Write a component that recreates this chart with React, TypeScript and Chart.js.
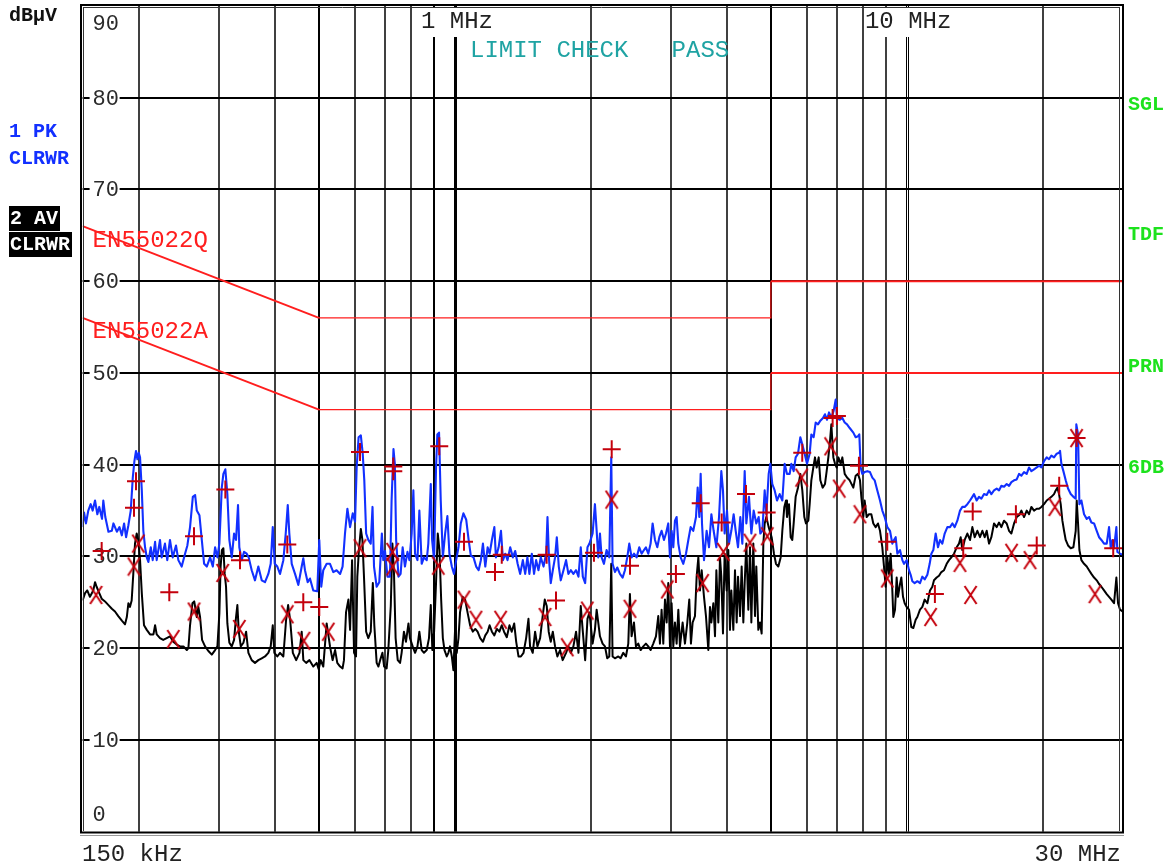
import React, { useEffect, useRef } from "react";
import { Chart, registerables } from "chart.js";

Chart.register(...registerables);

// ---- axis ranges (frequency in MHz, level in dBµV) ----
const FREQ_MIN = 0.15;
const FREQ_MAX = 30;
const LEVEL_MIN = 0;
const LEVEL_MAX = 90;
const LEVEL_GRID = [10, 20, 30, 40, 50, 60, 70, 80];
const LEVEL_LABELS = ["10", "20", "30", "40", "50", "60", "70", "80"];
const FREQ_GRID = [0.2, 0.3, 0.4, 0.5, 0.6, 0.7, 0.8, 0.9, 1, 2, 3, 4, 5, 6, 7, 8, 9, 10, 20];

// ---- limit lines ----
const EN55022Q_FREQ = [0.15, 0.5, 5, 5, 30];
const EN55022Q_LEVEL = [66, 56, 56, 60, 60];
const EN55022A_FREQ = [0.15, 0.5, 5, 5, 30];
const EN55022A_LEVEL = [56, 46, 46, 50, 50];

// ---- trace 1: PK (blue) [MHz, dBµV] ----
const peakTrace: [number, number][] = [
  [0.150, 33.2], [0.1511, 34.8], [0.1526, 33.6], [0.1544, 35.0], [0.1563, 35.7], [0.1579, 35.0], [0.1598, 36.1],
  [0.1617, 34.6], [0.1633, 35.4], [0.1656, 34.1], [0.1667, 36.1], [0.1684, 34.3], [0.1711, 32.7], [0.1741, 32.8],
  [0.1755, 33.6], [0.1786, 32.7], [0.1810, 33.2], [0.1832, 32.3], [0.1853, 33.6], [0.1872, 32.1], [0.1894, 33.4],
  [0.1917, 35.0], [0.1937, 38.6], [0.1953, 40.4], [0.1969, 41.5], [0.1983, 40.6], [0.1997, 41.3], [0.2010, 40.8],
  [0.2028, 37.2], [0.2044, 32.8], [0.2062, 31.0], [0.2080, 29.9], [0.2097, 29.4], [0.2123, 31.0], [0.2144, 29.6],
  [0.2170, 31.6], [0.2188, 29.6], [0.2225, 31.8], [0.2244, 29.9], [0.2282, 31.4], [0.2309, 29.6], [0.2341, 31.8],
  [0.2374, 29.9], [0.2414, 31.2], [0.2443, 29.6], [0.2485, 28.9], [0.2528, 30.3], [0.2558, 31.2], [0.2593, 33.2],
  [0.2630, 36.5], [0.2661, 36.7], [0.2684, 35.0], [0.2720, 34.5], [0.2753, 31.8], [0.2786, 29.2], [0.2824, 28.9],
  [0.2872, 29.9], [0.2912, 28.9], [0.2946, 31.0], [0.2981, 29.9], [0.3011, 31.4], [0.3048, 37.5], [0.3073, 39.0],
  [0.3104, 39.5], [0.3136, 36.8], [0.3168, 31.8], [0.3207, 29.9], [0.3245, 32.5], [0.3278, 31.8], [0.3311, 35.6],
  [0.3333, 31.0], [0.3374, 29.6], [0.3414, 30.5], [0.3461, 30.3], [0.3496, 29.9], [0.3550, 28.5], [0.3610, 27.4],
  [0.3672, 28.9], [0.3736, 27.4], [0.3799, 27.2], [0.3864, 28.1], [0.3911, 29.2], [0.3952, 33.2], [0.3992, 29.2],
  [0.4045, 28.9], [0.4101, 28.1], [0.4171, 29.6], [0.4222, 32.5], [0.4266, 35.6], [0.4300, 32.5], [0.4353, 29.2],
  [0.4427, 28.1], [0.4502, 26.9], [0.4580, 28.9], [0.4618, 29.8], [0.4657, 28.5], [0.4722, 27.2], [0.4777, 27.6],
  [0.4858, 26.3], [0.4958, 26.2], [0.5009, 31.8], [0.5060, 26.7], [0.5112, 28.5], [0.5201, 29.2],
  [0.529, 29.2], [0.538, 28.3], [0.547, 28.5], [0.557, 28.1], [0.564, 28.9], [0.571, 32.5], [0.578, 35.2],
  [0.586, 33.2], [0.594, 34.7], [0.601, 33.8], [0.606, 39.7], [0.612, 43.0], [0.619, 43.2], [0.625, 41.2],
  [0.630, 38.3], [0.636, 32.5], [0.643, 31.8], [0.651, 31.4], [0.657, 35.4], [0.662, 28.9], [0.671, 26.7],
  [0.680, 27.2], [0.689, 32.5], [0.694, 29.6], [0.700, 30.6], [0.709, 27.8], [0.718, 27.8], [0.724, 36.1],
  [0.731, 41.7], [0.736, 40.1], [0.741, 31.8], [0.750, 27.8], [0.758, 28.1], [0.766, 31.0], [0.775, 28.9],
  [0.785, 30.5], [0.793, 29.6], [0.802, 32.5], [0.809, 37.2], [0.816, 30.3], [0.826, 29.6], [0.834, 35.0],
  [0.844, 29.2], [0.854, 29.9], [0.866, 29.6], [0.873, 31.4], [0.884, 37.9], [0.890, 31.8], [0.899, 29.6],
  [0.908, 39.7], [0.914, 43.3], [0.922, 43.5], [0.930, 36.1], [0.940, 29.9], [0.951, 32.5], [0.962, 34.4],
  [0.972, 30.3], [0.984, 28.9], [0.995, 28.1], [1.006, 29.6], [1.018, 31.0], [1.030, 33.6], [1.044, 34.7],
  [1.059, 34.0], [1.072, 31.8], [1.084, 30.1], [1.099, 29.9], [1.114, 28.9], [1.128, 28.5], [1.141, 29.6],
  [1.153, 31.4], [1.167, 28.9], [1.181, 31.0], [1.193, 30.3], [1.207, 31.8], [1.222, 33.2], [1.232, 29.9],
  [1.249, 31.0], [1.264, 32.8], [1.277, 29.6], [1.292, 30.3], [1.307, 29.6], [1.325, 31.0], [1.343, 29.9],
  [1.359, 30.6], [1.376, 29.2], [1.394, 28.1], [1.413, 29.6], [1.430, 28.1], [1.446, 29.9], [1.461, 28.1],
  [1.479, 30.3], [1.496, 28.1], [1.512, 29.6], [1.530, 28.5], [1.548, 29.9], [1.570, 28.9], [1.591, 30.3],
  [1.602, 34.3], [1.615, 29.6], [1.629, 27.1], [1.646, 28.5], [1.665, 29.9], [1.680, 32.1], [1.697, 28.9],
  [1.714, 27.4], [1.738, 28.5], [1.761, 29.6], [1.782, 28.1], [1.804, 28.5], [1.828, 28.1], [1.853, 28.5],
  [1.876, 27.8], [1.898, 31.0], [1.918, 27.8], [1.941, 27.1], [1.964, 31.0], [1.984, 31.4],
  [2.016, 32.5], [2.040, 35.7], [2.058, 32.8], [2.075, 29.9], [2.093, 32.5], [2.111, 29.9], [2.136, 29.2],
  [2.165, 30.7], [2.195, 29.9], [2.217, 40.8], [2.232, 29.2], [2.259, 28.3], [2.286, 28.8], [2.317, 28.1],
  [2.349, 27.7], [2.377, 28.5], [2.405, 29.9], [2.430, 31.4], [2.459, 29.9], [2.489, 30.3], [2.523, 29.9],
  [2.557, 31.0], [2.588, 30.3], [2.619, 30.7], [2.645, 31.0], [2.677, 30.3], [2.709, 31.4], [2.737, 33.6],
  [2.770, 31.8], [2.803, 31.0], [2.832, 32.1], [2.865, 32.8], [2.900, 31.8], [2.930, 32.5], [2.964, 33.6],
  [2.990, 29.9], [3.015, 32.8], [3.041, 31.0], [3.067, 33.9], [3.093, 34.3], [3.120, 31.4], [3.157, 29.9],
  [3.200, 29.2], [3.244, 30.3], [3.283, 31.8], [3.322, 33.2], [3.367, 32.8], [3.414, 34.3], [3.443, 37.5],
  [3.472, 34.3], [3.496, 39.0], [3.520, 33.6], [3.556, 29.6], [3.604, 32.8], [3.648, 31.0], [3.692, 34.6],
  [3.735, 32.8], [3.787, 31.0], [3.839, 34.3], [3.884, 39.3], [3.917, 37.2], [3.950, 32.5], [3.998, 35.0],
  [4.039, 31.4], [4.087, 32.8], [4.136, 34.6], [4.179, 32.8], [4.229, 31.0], [4.279, 34.3], [4.323, 31.4],
  [4.375, 39.3], [4.412, 33.6], [4.472, 36.5], [4.526, 32.5], [4.580, 35.0], [4.642, 33.6], [4.698, 34.3],
  [4.738, 32.5], [4.787, 32.8], [4.844, 37.2], [4.885, 34.6], [4.944, 39.0], [4.985, 40.1], [5.036, 37.9],
  [5.097, 37.2], [5.158, 36.1], [5.228, 36.8], [5.300, 36.1], [5.363, 40.1], [5.427, 39.0], [5.502, 39.0],
  [5.548, 40.1], [5.615, 39.3], [5.672, 40.8], [5.740, 41.2], [5.809, 43.0], [5.868, 42.2], [5.938, 41.2],
  [6.010, 40.1], [6.092, 41.2], [6.144, 43.3], [6.217, 43.0], [6.281, 44.6], [6.356, 44.4], [6.432, 44.8],
  [6.520, 45.1], [6.587, 45.5], [6.655, 44.9], [6.723, 45.7], [6.803, 45.1], [6.885, 45.9], [6.955, 47.1],
  [7.003, 45.1], [7.099, 44.9], [7.195, 45.1], [7.282, 44.6], [7.369, 44.4], [7.470, 44.0],
  [7.609, 43.5], [7.700, 43.0], [7.792, 43.1], [7.845, 43.3], [7.899, 39.7], [7.966, 39.0], [8.061, 39.2],
  [8.172, 39.3], [8.283, 39.2], [8.383, 38.6], [8.483, 38.3], [8.599, 37.2], [8.717, 36.1], [8.821, 35.0],
  [8.927, 34.3], [9.048, 33.2], [9.172, 32.8], [9.282, 31.4], [9.361, 31.8], [9.441, 32.1], [9.522, 30.3],
  [9.652, 30.7], [9.768, 29.6], [9.851, 29.2], [9.986, 29.6], [10.105, 28.5], [10.191, 28.0], [10.278, 27.3],
  [10.400, 27.1], [10.543, 27.3], [10.687, 27.1], [10.815, 27.8], [10.945, 27.5], [11.095, 28.0], [11.227, 29.2],
  [11.323, 30.3], [11.438, 30.7], [11.575, 32.5], [11.714, 31.0], [11.834, 31.8], [11.976, 31.4], [12.119, 32.5],
  [12.285, 33.2], [12.453, 33.2], [12.601, 33.6], [12.752, 33.2], [12.927, 33.9], [13.104, 35.0], [13.260, 35.4],
  [13.419, 35.4], [13.603, 35.7], [13.789, 36.1], [13.954, 36.5], [14.073, 36.8], [14.264, 36.1], [14.435, 36.5],
  [14.608, 36.3], [14.808, 36.8], [15.011, 36.7], [15.191, 37.2], [15.372, 36.8], [15.583, 37.2], [15.796, 37.4],
  [15.985, 37.2], [16.176, 37.7], [16.398, 37.6], [16.622, 37.9], [16.821, 37.7], [17.023, 38.1], [17.256, 38.3],
  [17.492, 38.4], [17.702, 39.0], [17.913, 38.8], [18.158, 39.2], [18.406, 39.0], [18.627, 39.7], [18.849, 39.3],
  [19.107, 39.5], [19.369, 39.7], [19.600, 39.9], [19.835, 39.7], [20.106, 40.4], [20.379, 40.8], [20.623, 40.6],
  [20.870, 41.0], [21.155, 40.8], [21.445, 41.2], [21.702, 41.3], [21.813, 41.5], [21.962, 40.1], [22.187, 39.3],
  [22.452, 38.3], [22.721, 37.4], [23.032, 36.8], [23.346, 36.5], [23.626, 36.3], [23.700, 44.4], [23.747, 44.4],
  [23.909, 43.3], [24.072, 35.7], [24.319, 36.1], [24.652, 34.6], [24.989, 34.1], [25.288, 34.3], [25.591, 33.7],
  [25.941, 33.6], [26.294, 32.8], [26.609, 32.1], [26.927, 31.8], [27.295, 31.4], [27.669, 31.4], [27.999, 33.2],
  [28.238, 30.9], [28.479, 31.8], [28.722, 30.9], [29.064, 33.2], [29.213, 30.5], [29.612, 30.3], [30.0, 30.2],
];

// ---- trace 2: AV (black) [MHz, dBµV] ----
const averageTrace: [number, number][] = [
  [0.150, 25.2], [0.1519, 26.0], [0.1536, 26.3], [0.1557, 25.6], [0.1584, 26.3], [0.1598, 27.2], [0.1611, 26.7],
  [0.1633, 26.0], [0.1653, 25.4], [0.1681, 25.1], [0.1711, 24.7], [0.1741, 24.3], [0.1769, 24.0], [0.1799, 23.5],
  [0.1832, 23.0], [0.1862, 22.6], [0.1879, 23.4], [0.1894, 24.9], [0.1909, 24.5], [0.1926, 25.2], [0.1942, 28.1],
  [0.1959, 31.4], [0.1976, 32.5], [0.1992, 31.8], [0.2010, 29.6], [0.2028, 26.0], [0.2051, 22.5], [0.2080, 22.0],
  [0.2115, 21.5], [0.2152, 21.5], [0.2170, 22.5], [0.2188, 21.5], [0.2225, 21.1], [0.2262, 20.9], [0.2302, 21.1],
  [0.2341, 21.3], [0.2381, 20.7], [0.2422, 20.4], [0.2464, 20.2], [0.2507, 20.2], [0.2551, 19.8], [0.2571, 20.0],
  [0.2593, 22.5], [0.2625, 24.9], [0.2649, 25.1], [0.2684, 23.4], [0.2705, 24.5], [0.2729, 23.4], [0.2757, 20.9],
  [0.2799, 20.2], [0.2847, 19.7], [0.2897, 19.3], [0.2946, 19.8], [0.2981, 20.2], [0.3011, 23.8], [0.3030, 28.9],
  [0.3050, 30.7], [0.3073, 30.9], [0.3094, 28.1], [0.3115, 26.7], [0.3136, 22.7], [0.3168, 20.6], [0.3207, 20.2],
  [0.3245, 20.9], [0.3278, 23.4], [0.3300, 24.7], [0.3324, 21.8], [0.3358, 20.2], [0.3403, 20.6], [0.3450, 21.8],
  [0.3491, 19.5], [0.3550, 18.7], [0.3610, 18.4], [0.3672, 18.7], [0.3736, 18.9], [0.3799, 19.1], [0.3864, 19.5],
  [0.3911, 20.2], [0.3952, 22.5], [0.3984, 19.5], [0.4045, 19.1], [0.4101, 19.5], [0.4171, 19.1], [0.4230, 23.1],
  [0.4274, 24.7], [0.4318, 23.1], [0.4378, 19.5], [0.4453, 18.7], [0.4529, 19.5], [0.4580, 21.8], [0.4618, 18.7],
  [0.4685, 18.4], [0.4765, 18.7], [0.4858, 18.0], [0.4943, 18.4], [0.4994, 17.7], [0.5046, 18.7], [0.5112, 18.0],
  [0.5201, 22.7],
  [0.529, 20.2], [0.536, 18.7], [0.543, 19.8], [0.549, 18.4], [0.557, 18.0], [0.564, 17.8], [0.568, 18.7],
  [0.574, 23.9], [0.581, 25.3], [0.586, 22.0], [0.592, 29.6], [0.598, 19.5], [0.604, 19.1], [0.608, 27.8],
  [0.613, 30.7], [0.619, 33.0], [0.624, 31.8], [0.629, 27.8], [0.636, 21.8], [0.643, 21.1], [0.651, 21.8],
  [0.658, 27.1], [0.663, 22.5], [0.671, 18.4], [0.677, 18.0], [0.683, 18.7], [0.691, 19.5], [0.697, 18.0],
  [0.706, 17.8], [0.712, 19.8], [0.721, 24.6], [0.727, 31.4], [0.733, 28.1], [0.739, 21.1], [0.747, 18.7],
  [0.756, 18.4], [0.762, 19.5], [0.771, 21.8], [0.779, 20.7], [0.789, 22.7], [0.795, 21.1], [0.806, 20.2],
  [0.816, 19.5], [0.826, 20.2], [0.834, 21.8], [0.844, 19.8], [0.854, 19.5], [0.866, 19.8], [0.876, 21.1],
  [0.884, 24.7], [0.891, 19.8], [0.899, 21.8], [0.908, 27.1], [0.916, 32.5], [0.924, 30.7], [0.932, 25.3],
  [0.940, 21.1], [0.948, 19.8], [0.959, 19.1], [0.967, 19.5], [0.975, 20.2], [0.984, 19.1], [0.992, 17.6],
  [1.000, 21.8], [1.009, 19.5], [1.018, 21.1], [1.026, 23.9], [1.040, 25.6], [1.053, 25.3], [1.066, 23.9],
  [1.080, 22.5], [1.095, 21.8], [1.109, 22.1], [1.122, 21.8], [1.137, 21.1], [1.153, 20.7], [1.167, 21.4],
  [1.181, 21.8], [1.193, 22.5], [1.207, 21.8], [1.222, 21.4], [1.238, 22.1], [1.254, 21.8], [1.269, 22.5],
  [1.284, 21.8], [1.302, 21.2], [1.320, 22.5], [1.335, 21.8], [1.352, 22.7], [1.366, 20.7], [1.382, 19.1],
  [1.399, 19.1], [1.418, 19.5], [1.437, 21.1], [1.454, 23.2], [1.466, 20.2], [1.486, 19.5], [1.504, 21.8],
  [1.522, 20.2], [1.543, 21.1], [1.564, 23.6], [1.580, 25.3], [1.596, 24.6], [1.612, 21.8], [1.629, 20.7],
  [1.646, 21.8], [1.665, 20.2], [1.685, 19.1], [1.708, 19.8], [1.731, 18.7], [1.761, 19.5], [1.782, 20.2],
  [1.804, 19.5], [1.828, 20.2], [1.853, 21.8], [1.876, 19.5], [1.898, 24.6], [1.918, 21.8], [1.941, 18.7],
  [1.964, 23.2], [1.984, 23.9],
  [2.016, 20.5], [2.040, 22.0], [2.058, 24.2], [2.075, 22.8], [2.093, 21.3], [2.121, 20.5], [2.147, 20.2],
  [2.172, 18.9], [2.195, 19.1], [2.217, 29.2], [2.232, 19.1], [2.259, 18.9], [2.298, 19.1], [2.325, 18.9],
  [2.357, 19.5], [2.389, 19.1], [2.418, 20.5], [2.438, 25.9], [2.459, 21.3], [2.489, 22.8], [2.514, 20.2],
  [2.544, 20.5], [2.575, 19.8], [2.610, 20.2], [2.645, 20.5], [2.677, 20.2], [2.709, 19.8], [2.746, 20.5],
  [2.784, 21.3], [2.817, 23.5], [2.841, 20.5], [2.865, 24.2], [2.890, 20.5], [2.915, 25.3], [2.940, 22.8],
  [2.964, 27.1], [2.990, 20.2], [3.015, 24.9], [3.041, 20.2], [3.067, 22.8], [3.093, 20.5], [3.120, 24.2],
  [3.146, 20.2], [3.189, 22.8], [3.227, 20.5], [3.266, 22.8], [3.299, 25.3], [3.327, 20.5], [3.356, 22.8],
  [3.396, 23.5], [3.425, 27.8], [3.455, 29.9], [3.484, 26.3], [3.514, 28.5], [3.556, 25.6], [3.592, 23.5],
  [3.635, 19.8], [3.666, 24.5], [3.692, 22.8], [3.729, 24.9], [3.761, 21.3], [3.787, 28.5], [3.825, 22.8],
  [3.858, 29.9], [3.884, 27.8], [3.917, 21.6], [3.950, 30.3], [3.991, 26.3], [4.025, 30.7], [4.059, 22.0],
  [4.087, 26.3], [4.129, 22.0], [4.164, 28.5], [4.200, 22.8], [4.229, 27.8], [4.272, 23.5], [4.308, 28.9],
  [4.345, 22.8], [4.375, 27.1], [4.412, 31.4], [4.457, 24.2], [4.495, 31.0], [4.526, 22.8], [4.572, 31.4],
  [4.611, 23.5], [4.642, 28.9], [4.690, 22.0], [4.730, 22.8], [4.770, 21.6], [4.811, 31.4], [4.844, 33.6],
  [4.885, 34.3], [4.944, 33.2], [5.019, 32.1], [5.079, 30.3], [5.131, 29.2], [5.193, 28.9], [5.255, 29.9],
  [5.300, 32.8], [5.354, 35.4], [5.400, 36.1], [5.427, 34.3], [5.483, 35.7], [5.530, 32.1], [5.576, 31.8],
  [5.615, 33.6], [5.672, 36.5], [5.740, 37.5], [5.809, 39.0], [5.868, 37.2], [5.928, 34.3], [5.979, 33.6],
  [6.050, 33.9], [6.092, 35.7], [6.144, 38.3], [6.206, 39.7], [6.259, 40.8], [6.313, 39.7], [6.378, 40.8],
  [6.432, 38.3], [6.509, 37.5], [6.587, 37.9], [6.643, 39.3], [6.700, 40.8], [6.757, 42.6], [6.803, 44.4],
  [6.873, 40.8], [6.932, 40.1], [6.991, 39.7], [7.051, 40.8], [7.136, 40.1], [7.195, 40.8], [7.282, 39.0],
  [7.369, 38.6], [7.470, 38.3],
  [7.609, 37.5], [7.700, 38.8], [7.792, 39.0], [7.872, 38.3], [7.926, 36.5], [8.007, 34.3], [8.061, 36.1],
  [8.144, 34.3], [8.241, 34.6], [8.340, 34.6], [8.425, 33.6], [8.526, 33.2], [8.628, 33.6], [8.717, 32.8],
  [8.821, 31.0], [8.896, 28.9], [8.971, 26.7], [9.048, 29.9], [9.125, 28.1], [9.203, 30.3], [9.282, 26.3],
  [9.329, 23.4], [9.409, 24.2], [9.489, 27.7], [9.554, 25.6], [9.652, 27.0], [9.718, 27.7], [9.801, 25.6],
  [9.885, 24.9], [9.986, 24.5], [10.105, 24.2], [10.225, 22.3], [10.330, 22.2], [10.454, 23.1], [10.543, 23.4],
  [10.687, 24.2], [10.815, 24.5], [10.945, 25.3], [11.095, 24.9], [11.246, 26.3], [11.380, 26.7], [11.477, 27.4],
  [11.634, 27.7], [11.773, 27.9], [11.915, 28.3], [12.078, 28.5], [12.243, 29.2], [12.389, 29.6], [12.538, 29.9],
  [12.709, 30.3], [12.883, 31.0], [13.037, 31.4], [13.148, 32.1], [13.260, 30.7], [13.419, 31.8], [13.603, 32.5],
  [13.789, 31.8], [13.954, 33.2], [14.121, 32.1], [14.313, 32.8], [14.509, 32.1], [14.683, 32.8], [14.859, 32.1],
  [15.011, 32.8], [15.191, 31.4], [15.372, 32.1], [15.583, 33.6], [15.796, 33.2], [15.985, 33.7], [16.176, 33.2],
  [16.398, 33.9], [16.622, 33.6], [16.821, 32.8], [17.023, 32.5], [17.256, 33.6], [17.492, 34.3], [17.702, 34.5],
  [17.913, 35.0], [18.158, 34.3], [18.406, 35.0], [18.627, 34.6], [18.849, 35.4], [19.107, 35.0], [19.369, 35.2],
  [19.600, 35.2], [19.835, 35.4], [20.106, 35.7], [20.379, 36.1], [20.623, 36.3], [20.870, 36.5], [21.155, 36.8],
  [21.336, 37.2], [21.518, 37.5], [21.702, 36.8], [21.887, 35.7], [22.074, 33.9], [22.262, 32.8], [22.452, 31.8],
  [22.721, 31.2], [23.032, 30.9], [23.346, 31.0], [23.626, 32.8], [23.747, 36.1], [23.909, 33.6], [24.072, 30.7],
  [24.319, 29.6], [24.652, 29.2], [24.989, 28.9], [25.288, 28.5], [25.591, 28.1], [25.941, 27.7], [26.294, 27.4],
  [26.609, 27.0], [26.927, 26.7], [27.295, 26.3], [27.669, 25.9], [27.999, 25.6], [28.334, 25.3], [28.722, 24.9],
  [29.064, 27.7], [29.312, 24.9], [29.612, 24.2], [30.0, 24.0],
];

// ---- final measurement markers ----
const peakMarkers: [number, number][] = [
  [0.1653, 30.6], [0.1949, 35.3], [0.1969, 38.2], [0.2333, 26.1], [0.2646, 32.2], [0.3104, 37.3], [0.3345, 29.6],
  [0.4256, 31.3], [0.4617, 25.0], [0.5009, 24.5], [0.6164, 41.4], [0.7303, 39.8], [0.7303, 39.3], [0.9230, 42.0],
  [1.047, 31.6], [1.226, 28.3], [1.269, 30.2], [1.595, 30.2], [1.673, 25.2], [2.03, 30.4], [2.222, 41.7],
  [2.439, 29.0], [3.082, 28.1], [3.497, 35.8], [3.891, 33.7], [4.404, 36.8], [4.893, 34.8], [5.866, 41.3],
  [6.848, 45.1], [6.999, 45.3], [7.83, 39.9], [9.045, 31.6], [11.53, 25.9], [13.32, 30.9], [13.98, 34.9],
  [17.42, 34.6], [19.37, 31.2], [21.72, 37.7], [23.73, 42.9], [28.60, 30.9],
];
const averageMarkers: [number, number][] = [
  [0.1606, 25.8], [0.1949, 28.9], [0.1992, 31.4], [0.2381, 21.0], [0.2646, 24.0], [0.3063, 28.2], [0.3333, 22.1],
  [0.4256, 23.7], [0.4633, 20.8], [0.5244, 21.8], [0.6164, 30.9], [0.7280, 30.5], [0.7280, 28.9], [0.9183, 29.0],
  [1.047, 25.3], [1.113, 23.1], [1.262, 23.1], [1.582, 23.4], [1.772, 20.1], [1.962, 24.1], [2.222, 36.2],
  [2.439, 24.3], [2.949, 26.4], [3.532, 27.1], [3.924, 30.5], [4.494, 31.5], [4.908, 32.2], [5.849, 38.6],
  [6.779, 42.0], [7.081, 37.4], [7.870, 34.6], [9.045, 27.6], [11.28, 23.4], [13.10, 29.3], [13.83, 25.8],
  [17.04, 30.4], [18.72, 29.6], [21.25, 35.4], [23.73, 42.9], [26.06, 25.9],
];

// ---- texts ----
const LIMIT_NAMES = ["EN55022Q", "EN55022A"];
const LEFT_UNIT = "dBµV";
const TRACE1_LABEL = ["1 PK", "CLRWR"];
const TRACE2_LABEL = ["2 AV", "CLRWR"];
const RIGHT_FLAGS = ["SGL", "TDF", "PRN", "6DB"];
const LIMIT_CHECK = "LIMIT CHECK   PASS";
const START_LABEL = "150 kHz";
const STOP_LABEL = "30 MHz";

const MONO = '"Liberation Mono", "DejaVu Sans Mono", monospace';
const RED_LIMIT = "#ff1e1e";
const MARK_RED = "#c4000c";
const TRACE_BLUE = "#1230ff";

const toXY = (arr: [number, number][]) => arr.map(([x, y]) => ({ x, y }));
const limitSeg = (f: number[], l: number[], from: number, to: number) =>
  f.slice(from, to).map((x, i) => ({ x, y: l[from + i] }));

function makeXStyle(): HTMLCanvasElement {
  const c = document.createElement("canvas");
  c.width = 15;
  c.height = 20;
  const g = c.getContext("2d")!;
  g.strokeStyle = MARK_RED;
  g.lineWidth = 2;
  g.beginPath();
  g.moveTo(1.5, 1);
  g.lineTo(13.5, 19);
  g.moveTo(13.5, 1);
  g.lineTo(1.5, 19);
  g.stroke();
  return c;
}

const decorPlugin = {
  id: "emiDecor",
  beforeDatasetsDraw(chart: any) {
    const { ctx, chartArea: a, scales } = chart;
    const xs = scales.x;
    const ys = scales.y;
    ctx.save();
    ctx.strokeStyle = "#000";
    // horizontal grid
    ctx.lineWidth = 2;
    for (const v of LEVEL_GRID) {
      const py = Math.round(ys.getPixelForValue(v));
      ctx.beginPath();
      ctx.moveTo(a.left, py);
      ctx.lineTo(a.right, py);
      ctx.stroke();
    }
    // vertical grid
    for (const f of FREQ_GRID) {
      const px = xs.getPixelForValue(f);
      if (f === 10) {
        ctx.lineWidth = 1;
        for (const dx of [-1, 1]) {
          const p = Math.round(px + dx) + 0.5;
          ctx.beginPath();
          ctx.moveTo(p, a.top);
          ctx.lineTo(p, a.bottom);
          ctx.stroke();
        }
        continue;
      }
      const w = f === 1 ? 3 : f === 0.5 || f === 0.9 || f === 5 ? 2 : 1.5;
      ctx.lineWidth = w;
      const p = Math.round(px) + (w === 3 ? 0.5 : 0);
      ctx.beginPath();
      ctx.moveTo(p, a.top);
      ctx.lineTo(p, a.bottom);
      ctx.stroke();
    }
    // level labels with white background
    ctx.font = `22px ${MONO}`;
    ctx.textBaseline = "middle";
    ctx.textAlign = "left";
    const lx = a.left + 10;
    LEVEL_GRID.forEach((v, i) => {
      const py = ys.getPixelForValue(v);
      ctx.fillStyle = "#fff";
      ctx.fillRect(a.left + 7, py - 10, 30, 20);
      ctx.fillStyle = "#2a2a2a";
      ctx.fillText(LEVEL_LABELS[i], lx, py + 1);
    });
    ctx.fillStyle = "#2a2a2a";
    ctx.fillText(String(LEVEL_MAX), lx, ys.getPixelForValue(LEVEL_MAX) + 18);
    ctx.fillText(String(LEVEL_MIN), lx, ys.getPixelForValue(LEVEL_MIN) - 17);

    // decade labels on top with white background
    ctx.font = `24px ${MONO}`;
    const p1 = xs.getPixelForValue(1);
    const p10 = xs.getPixelForValue(10);
    ctx.fillStyle = "#fff";
    ctx.fillRect(p1 - 36, a.top + 2, 76, 29);
    ctx.fillRect(p10 - 42, a.top + 2, 88, 29);
    ctx.fillStyle = "#222";
    ctx.fillText("1 MHz", p1 - 34, a.top + 16);
    ctx.fillText("10 MHz", p10 - 42, a.top + 16);

    // limit check
    ctx.fillStyle = "#1fa3a3";
    ctx.fillText(LIMIT_CHECK, p1 + 15, a.top + 45);

    // limit names
    ctx.fillStyle = RED_LIMIT;
    ctx.fillText(LIMIT_NAMES[0], lx, 241);
    ctx.fillText(LIMIT_NAMES[1], lx, 332);
    ctx.restore();
  },
  afterDatasetsDraw(chart: any) {
    const { ctx } = chart;
    ctx.save();
    ctx.strokeStyle = "#000";
    // outer frame
    ctx.lineWidth = 2;
    ctx.beginPath();
    ctx.moveTo(81, 5);
    ctx.lineTo(1123, 5);
    ctx.moveTo(81, 4);
    ctx.lineTo(81, 833);
    ctx.moveTo(80, 832.5);
    ctx.lineTo(1124, 832.5);
    ctx.moveTo(1123, 4);
    ctx.lineTo(1123, 833);
    ctx.stroke();
    // inner thin frame
    ctx.lineWidth = 1;
    ctx.strokeStyle = "#333";
    ctx.beginPath();
    ctx.moveTo(83.5, 7.5);
    ctx.lineTo(1119.5, 7.5);
    ctx.moveTo(83.5, 7);
    ctx.lineTo(83.5, 831);
    ctx.moveTo(1119.5, 7);
    ctx.lineTo(1119.5, 831);
    ctx.stroke();
    ctx.strokeStyle = "#999";
    ctx.beginPath();
    ctx.moveTo(80, 835.5);
    ctx.lineTo(1124, 835.5);
    ctx.stroke();
    ctx.restore();
  },
  afterDraw(chart: any) {
    const { ctx } = chart;
    ctx.save();
    ctx.textBaseline = "middle";
    ctx.textAlign = "left";
    // left block
    ctx.font = `bold 20px ${MONO}`;
    ctx.fillStyle = "#111";
    ctx.fillText(LEFT_UNIT, 9, 16);
    ctx.fillStyle = TRACE_BLUE;
    ctx.fillText(TRACE1_LABEL[0], 9, 132);
    ctx.fillText(TRACE1_LABEL[1], 9, 159);
    ctx.fillStyle = "#000";
    ctx.fillRect(9, 206, 51, 25);
    ctx.fillRect(9, 232, 63, 25);
    ctx.fillStyle = "#fff";
    ctx.fillText(TRACE2_LABEL[0], 10, 219);
    ctx.fillText(TRACE2_LABEL[1], 10, 245);
    // right flags
    ctx.font = `bold 20px ${MONO}`;
    ctx.fillStyle = "#1de21d";
    const fy = [105, 235, 367, 468];
    RIGHT_FLAGS.forEach((t, i) => ctx.fillText(t, 1128, fy[i]));
    // start / stop
    ctx.font = `24px ${MONO}`;
    ctx.fillStyle = "#222";
    ctx.fillText(START_LABEL, 82, 855);
    ctx.textAlign = "right";
    ctx.fillText(STOP_LABEL, 1121, 855);
    ctx.restore();
  },
};

const limitDataset = (label: string, data: { x: number; y: number }[], width: number) => ({
  label,
  data,
  borderColor: RED_LIMIT,
  borderWidth: width,
  pointRadius: 0,
  order: 3,
});

export default function App() {
  const canvasRef = useRef<HTMLCanvasElement | null>(null);

  useEffect(() => {
    const canvas = canvasRef.current;
    if (!canvas) return;
    const xStyle = makeXStyle();
    const chart = new Chart(canvas, {
      type: "line",
      data: {
        datasets: [
          {
            label: "PK marks",
            data: toXY(peakMarkers),
            showLine: false,
            pointStyle: "cross",
            pointRadius: 9,
            pointBorderWidth: 2,
            pointBorderColor: MARK_RED,
            borderColor: MARK_RED,
            order: 0,
          },
          {
            label: "AV marks",
            data: toXY(averageMarkers),
            showLine: false,
            pointStyle: xStyle as any,
            pointRadius: 9,
            borderColor: MARK_RED,
            order: 0,
          },
          {
            label: "1 PK",
            data: toXY(peakTrace),
            borderColor: TRACE_BLUE,
            borderWidth: 2.1,
            pointRadius: 0,
            tension: 0,
            borderJoinStyle: "round",
            order: 1,
          },
          {
            label: "2 AV",
            data: toXY(averageTrace),
            borderColor: "#000",
            borderWidth: 2,
            pointRadius: 0,
            tension: 0,
            borderJoinStyle: "round",
            order: 2,
          },
          limitDataset("EN55022Q slope", limitSeg(EN55022Q_FREQ, EN55022Q_LEVEL, 0, 2), 2),
          limitDataset("EN55022Q mid", limitSeg(EN55022Q_FREQ, EN55022Q_LEVEL, 1, 4), 1.2),
          limitDataset("EN55022Q high", limitSeg(EN55022Q_FREQ, EN55022Q_LEVEL, 3, 5), 2),
          limitDataset("EN55022A slope", limitSeg(EN55022A_FREQ, EN55022A_LEVEL, 0, 2), 2),
          limitDataset("EN55022A mid", limitSeg(EN55022A_FREQ, EN55022A_LEVEL, 1, 4), 1.2),
          limitDataset("EN55022A high", limitSeg(EN55022A_FREQ, EN55022A_LEVEL, 3, 5), 2),
        ],
      },
      options: {
        responsive: false,
        animation: false,
        devicePixelRatio: 1,
        events: [],
        layout: { autoPadding: false, padding: { left: 82.6, right: 48.4, top: 6, bottom: 36.3 } },
        plugins: { legend: { display: false }, tooltip: { enabled: false } },
        scales: {
          x: { type: "logarithmic", min: FREQ_MIN, max: FREQ_MAX, display: false },
          y: { type: "linear", min: LEVEL_MIN, max: LEVEL_MAX, display: false },
        },
      },
      plugins: [decorPlugin],
    } as any);
    return () => chart.destroy();
  }, []);

  return (
    <div style={{ position: "absolute", left: 0, top: 0, width: 1171, height: 868, background: "#fff" }}>
      <canvas ref={canvasRef} width={1171} height={868} style={{ display: "block" }} />
    </div>
  );
}
